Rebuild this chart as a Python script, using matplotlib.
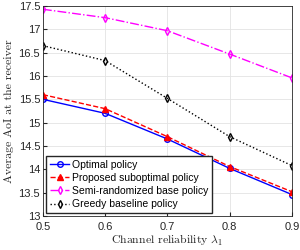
import numpy as np
import matplotlib
matplotlib.use("Agg")
import matplotlib.pyplot as plt

# channel reliability values
lam = [0.5, 0.6, 0.7, 0.8, 0.9]

optimal = [15.50, 15.20, 14.65, 14.02, 13.46]
suboptimal = [15.60, 15.30, 14.70, 14.06, 13.52]
semi_random = [17.43, 17.25, 16.97, 16.47, 15.96]
greedy = [16.65, 16.33, 15.52, 14.70, 14.08]

labels = ["Optimal policy", "Proposed suboptimal policy",
          "Semi-randomized base policy", "Greedy baseline policy"]

plt.rcParams['font.family'] = ['Liberation Sans', 'DejaVu Sans']
plt.rcParams['mathtext.fontset'] = 'cm'
plt.rcParams['axes.unicode_minus'] = False

fig = plt.figure(figsize=(3, 2.5), dpi=100)
ax = fig.add_axes([0.143, 0.136, 0.830, 0.840])

ax.plot(lam, optimal, color='blue', linestyle='-', marker='o', markersize=4,
        markerfacecolor='none', linewidth=1, label=labels[0])
ax.plot(lam, suboptimal, color='red', linestyle='--', marker='^', markersize=4,
        linewidth=1, label=labels[1])
ax.plot(lam, semi_random, color='magenta', linestyle='-.', marker='d', markersize=4,
        markerfacecolor='none', linewidth=1, label=labels[2])
ax.plot(lam, greedy, color='black', linestyle=':', marker='d', markersize=4,
        markerfacecolor='none', linewidth=1, label=labels[3])

ax.set_xlim(0.5, 0.9)
ax.set_ylim(13, 17.5)
ax.set_xticks([0.5, 0.6, 0.7, 0.8, 0.9])
ax.set_xticklabels(['0.5', '0.6', '0.7', '0.8', '0.9'])
ax.set_yticks(np.arange(13, 17.6, 0.5))
ax.set_yticklabels(['13', '13.5', '14', '14.5', '15', '15.5', '16', '16.5', '17', '17.5'])
ax.tick_params(labelsize=8, direction='in', length=3, colors='#262626')
ax.tick_params(axis='x', pad=4)
ax.tick_params(axis='y', pad=2)
ax.grid(True, color='#e3e3e3', linewidth=0.6)
for s in ax.spines.values():
    s.set_color('#262626')
    s.set_linewidth(0.6)

ax.set_xlabel(r"Channel reliability $\lambda_1$", fontname='cmr10', fontsize=8.5,
              labelpad=1, color='#262626')
ax.set_ylabel("Average AoI at the receiver", fontname='cmr10', fontsize=8.5,
              labelpad=3, color='#262626')

ax.legend(loc='lower left', fontsize=7.5, handlelength=1.9, borderpad=0.35,
          labelspacing=0.3, handletextpad=0.25, fancybox=False, framealpha=1,
          edgecolor='#262626', borderaxespad=0.3)

fig.savefig("out.png", dpi=100)
